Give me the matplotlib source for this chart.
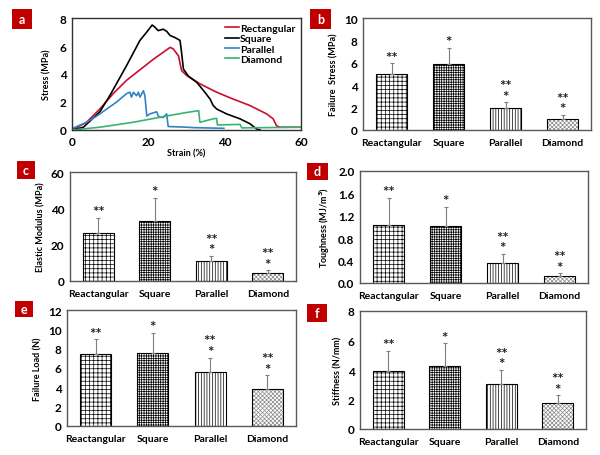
import matplotlib
matplotlib.use("Agg")
import matplotlib.pyplot as plt
from matplotlib.patches import Rectangle

plt.rcParams['font.family'] = ['Lato', 'DejaVu Sans']
plt.rcParams['font.weight'] = 'bold'
plt.rcParams['hatch.linewidth'] = 0.5

# ---------------- data ----------------
# panel a: stress-strain curves (strain %, stress MPa)
rect_strain = [0, 3.8, 7.3, 10.8, 14.3, 17.8, 21.3, 23.9, 25.7, 26.5, 27.9, 28.7, 30, 33.5, 37.9, 42.3, 46.6, 51, 52.7, 53.6, 54.5, 60]
rect_stress = [0, 0.55, 1.5, 2.6, 3.55, 4.3, 5.05, 5.55, 5.9, 5.8, 5.3, 4.25, 3.9, 3.3, 2.7, 2.2, 1.75, 1.15, 0.8, 0.3, 0.2, 0.2]

sq_strain = [0, 3, 7.3, 10, 14.3, 17.8, 19.6, 21, 21.7, 22.6, 23.9, 24.8, 25.7, 27, 28.3, 28.7, 29.2, 30.5, 32.7, 34.8, 36.2, 37, 37.9, 40.5, 44, 46.6, 48.4, 49.3]
sq_stress = [0, 0.2, 1.3, 2.5, 4.6, 6.4, 7.0, 7.5, 7.35, 7.1, 7.2, 7.05, 6.75, 6.6, 6.4, 5.55, 4.35, 3.85, 3.4, 2.7, 2.2, 1.75, 1.5, 1.15, 0.8, 0.45, 0.07, 0]

par_strain = [0, 3.8, 6.5, 9.1, 11.7, 14.3, 15.2, 15.6, 16.1, 16.9, 17.4, 17.8, 18.7, 19.1, 19.6, 20.4, 22.2, 22.6, 23.1, 23.9, 24.8, 25.2, 30, 31.8, 39.8]
par_stress = [0.1, 0.55, 1.0, 1.5, 2.0, 2.6, 2.7, 2.35, 2.7, 2.45, 2.7, 2.35, 2.8, 2.45, 1.0, 1.15, 1.3, 1.0, 0.9, 0.9, 1.15, 0.25, 0.2, 0.17, 0.12]

dia_strain = [0, 7.3, 16, 24.8, 30, 33.2, 33.5, 37, 37.9, 38.1, 44, 44.5, 60]
dia_stress = [0, 0.2, 0.55, 1.0, 1.25, 1.38, 0.55, 0.8, 0.83, 0.36, 0.4, 0.15, 0.2]

categories = ["Reactangular", "Square", "Parallel", "Diamond"]
marks = ["**", "*", "**\n*", "**\n*"]

fail_stress = [5.0, 5.85, 1.97, 0.97]
fail_stress_err = [0.95, 1.5, 0.5, 0.37]
elastic_mod = [26.3, 33.3, 11.0, 4.6]
elastic_mod_err = [8.6, 12.6, 2.8, 1.3]
toughness = [1.04, 1.01, 0.36, 0.125]
toughness_err = [0.48, 0.35, 0.16, 0.05]
fail_load = [7.48, 7.59, 5.59, 3.86]
fail_load_err = [1.49, 2.03, 1.48, 1.38]
stiffness = [3.93, 4.27, 3.05, 1.76]
stiffness_err = [1.36, 1.54, 0.95, 0.52]

hatches = ['++++', '+++++++', '||||||', 'xxxxxxxx']
hatch_colors = ['black', 'black', 'black', '#8a8a8a']
RED = '#c00000'

W, H = 600, 456
fig = plt.figure(figsize=(6, 4.56), dpi=100)


def px_axes(l, t, r, b):
    return fig.add_axes([l / W, 1 - b / H, (r - l) / W, (b - t) / H])


def panel_label(letter, l, t, r, b):
    fig.patches.append(Rectangle((l / W, 1 - b / H), (r - l) / W, (b - t) / H,
                                 transform=fig.transFigure, facecolor=RED,
                                 edgecolor='none'))
    fig.text((l + r) / 2 / W, 1 - (t + b) / 2 / H, letter, color='white',
             ha='center', va='center', fontsize=9, fontweight='bold')


def style_axes(ax, spine_color):
    for s in ax.spines.values():
        s.set_color(spine_color)
        s.set_linewidth(1.0)
    ax.tick_params(length=0, labelsize=8.5, pad=4)


# ---------------- panel a ----------------
ax = px_axes(72, 19, 301, 131)
ax.plot(rect_strain, rect_stress, color='#c8102e', lw=1.2, label='Rectangular')
ax.plot(sq_strain, sq_stress, color='black', lw=1.2, label='Square')
ax.plot(par_strain, par_stress, color='#2f83c6', lw=1.2, label='Parallel')
ax.plot(dia_strain, dia_stress, color='#3bb273', lw=1.2, label='Diamond')
ax.set_xlim(0, 60)
ax.set_ylim(0, 8)
ax.set_xticks([0, 20, 40, 60])
ax.set_yticks([0, 2, 4, 6, 8])
style_axes(ax, '#303030')
ax.set_xlabel('Strain (%)', fontsize=6.5, fontweight='bold', labelpad=1)
ax.set_ylabel('Stress (MPa)', fontsize=6.5, fontweight='bold', labelpad=6)
leg = ax.legend(loc='upper right', frameon=False, fontsize=7.5, handlelength=1.3,
                handletextpad=0.1, labelspacing=0.1, borderaxespad=0.15)
panel_label('a', 12, 10, 32, 30)


def bar_panel(box, vals, errs, ylim, yticks, ylabel, fmt, label, lbox):
    ax = px_axes(*box)
    x = list(range(len(categories)))
    for i in x:
        # hatch layer (hatch takes the edge colour)
        ax.bar(i, vals[i], width=0.54, facecolor='white', edgecolor=hatch_colors[i],
               hatch=hatches[i], linewidth=0, zorder=2)
        # black outline
        ax.bar(i, vals[i], width=0.54, facecolor='none', edgecolor='black',
               linewidth=0.8, zorder=2.5)
    ax.errorbar(x, vals, yerr=[[0] * len(errs), errs], fmt='none',
                ecolor='#7f7f7f', elinewidth=0.8, capsize=1.5, capthick=0.8, zorder=3)
    for i in x:
        ax.annotate(marks[i], (i, vals[i] + errs[i]), xytext=(0, -1),
                    textcoords='offset points', ha='center', va='bottom',
                    fontsize=11, fontweight='bold', color='#202020',
                    linespacing=0.7)
    ax.set_xlim(-0.5, 3.5)
    ax.set_ylim(*ylim)
    ax.set_yticks(yticks)
    ax.set_yticklabels([fmt.format(v) for v in yticks])
    ax.set_xticks(x)
    ax.set_xticklabels(categories)
    style_axes(ax, '#595959')
    ax.tick_params(axis='x', labelsize=7.5, pad=6)
    ax.set_ylabel(ylabel, fontsize=6.5, fontweight='bold', labelpad=4)
    panel_label(label, *lbox)
    return ax


bar_panel((363, 19, 591, 131), fail_stress, fail_stress_err, (0, 10), [0, 2, 4, 6, 8, 10],
          'Failure  Stress (MPa)', '{:g}', 'b', (310, 10, 331, 30))
bar_panel((70, 173, 296, 282), elastic_mod, elastic_mod_err, (0, 60), [0, 20, 40, 60],
          'Elastic Modulus (MPa)', '{:g}', 'c', (17, 162, 35, 180))
bar_panel((360, 172, 588, 284), toughness, toughness_err, (0, 2.0), [0, 0.4, 0.8, 1.2, 1.6, 2.0],
          'Toughness (MJ/m$^\\mathbf{3}$)', '{:.1f}', 'd', (307, 164, 328, 181))
bar_panel((67, 311, 296, 427), fail_load, fail_load_err, (0, 12), [0, 2, 4, 6, 8, 10, 12],
          'Failure Load (N)', '{:g}', 'e', (15, 302, 33, 318))
bar_panel((360, 312, 586, 430), stiffness, stiffness_err, (0, 8), [0, 2, 4, 6, 8],
          'Stiffness (N/mm)', '{:g}', 'f', (307, 305, 327, 323))

fig.savefig('out.png', dpi=100)
